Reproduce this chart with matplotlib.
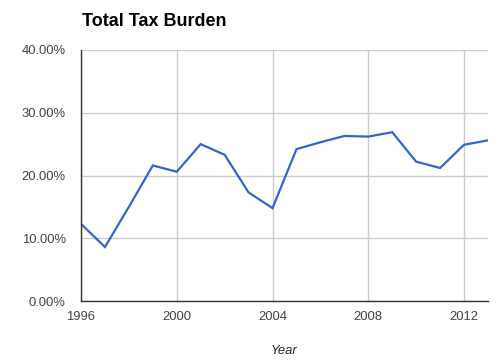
import matplotlib
matplotlib.use("Agg")
import matplotlib.pyplot as plt
from matplotlib.ticker import FuncFormatter

# ===== data =====
years = [1996, 1997, 1998, 1999, 2000, 2001, 2002, 2003, 2004,
         2005, 2006, 2007, 2008, 2009, 2010, 2011, 2012, 2013]
tax_burden = [12.3, 8.6, 15.0, 21.6, 20.6, 25.0, 23.3, 17.3, 14.8,
              24.2, 25.3, 26.3, 26.2, 26.9, 22.2, 21.2, 24.9, 25.6]
x_ticks = [1996, 2000, 2004, 2008, 2012]
y_ticks = [0, 10, 20, 30, 40]

plt.rcParams['font.family'] = ['Liberation Sans', 'DejaVu Sans']

fig = plt.figure(figsize=(4.98, 3.64), dpi=100)
ax = fig.add_axes([81 / 498, 1 - 301 / 364, (488 - 81) / 498, (301 - 50) / 364])

ax.plot(years, tax_burden, color='#3366cc', linewidth=1.6, solid_joinstyle='miter', zorder=3)

ax.set_xlim(1996, 2013)
ax.set_ylim(0, 40)
ax.set_xticks(x_ticks)
ax.set_yticks(y_ticks)
ax.yaxis.set_major_formatter(FuncFormatter(lambda v, p: f"{v:.2f}%"))

ax.grid(True, color='#cccccc', linewidth=1.0, zorder=0)
ax.set_axisbelow(True)
for s in ['top', 'right']:
    ax.spines[s].set_visible(False)
for s in ['left', 'bottom']:
    ax.spines[s].set_color('#333333')
    ax.spines[s].set_linewidth(1.0)
    ax.spines[s].set_zorder(4)

ax.tick_params(length=0, labelsize=9.4, colors='#444444', pad=7)
ax.tick_params(axis='y', pad=11)

ax.set_xlabel('Year', fontsize=9.4, style='italic', color='#222222', labelpad=16)
fig.text(82 / 498, 1 - 22 / 364, 'Total Tax Burden', fontsize=13, fontweight='bold',
         color='#000000', ha='left', va='center')

fig.savefig('out.png', dpi=100)
plt.close()
